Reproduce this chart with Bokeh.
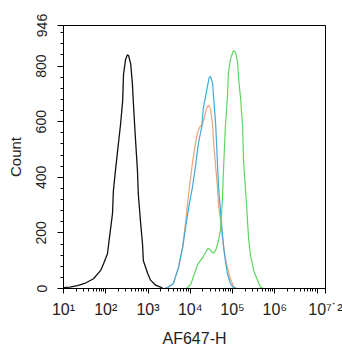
from bokeh.plotting import figure
from bokeh.models import Range1d, FixedTicker
from bokeh.embed import file_html
from bokeh.resources import INLINE

# ---- data (log10 of AF647-H intensity, count) ----
black_log = [1.00, 1.15, 1.33, 1.50, 1.71, 1.88, 1.95, 2.04, 2.11, 2.16, 2.18, 2.23, 2.28, 2.35, 2.40,
             2.42, 2.47, 2.51, 2.54, 2.59, 2.63, 2.66, 2.70, 2.75, 2.77, 2.82, 2.87, 2.89, 2.99,
             3.06, 3.18, 3.34]
black_cnt = [3, 5, 10, 18, 35, 65, 90, 125, 210, 270, 350, 425, 495, 590, 675,
             770, 825, 840, 838, 808, 737, 650, 545, 425, 340, 245, 160, 100, 55,
             30, 12, 2]

orange_log = [3.40, 3.46, 3.60, 3.72, 3.82, 3.89, 3.96, 4.01, 4.05, 4.12, 4.17, 4.22, 4.29, 4.34,
              4.38, 4.43, 4.48, 4.53, 4.55, 4.60, 4.64, 4.67, 4.72, 4.76, 4.79, 4.83, 4.88,
              4.95, 5.02, 5.09]
orange_cnt = [0, 3, 18, 75, 150, 240, 340, 400, 450, 520, 560, 580, 590, 620,
              645, 660, 645, 585, 530, 440, 370, 300, 240, 185, 148, 110, 75,
              35, 8, 0]

blue_log = [3.40, 3.46, 3.60, 3.72, 3.82, 3.89, 3.96, 4.05, 4.12, 4.19, 4.27, 4.31, 4.41, 4.45,
            4.48, 4.53, 4.55, 4.60, 4.64, 4.67, 4.72, 4.76, 4.79, 4.83, 4.88, 4.95, 5.02, 5.10]
blue_cnt = [0, 3, 18, 75, 148, 220, 290, 363, 435, 520, 580, 650, 730, 760,
            762, 737, 690, 593, 460, 363, 270, 198, 148, 100, 53, 18, 3, 0]

green_log = [3.91, 4.01, 4.08, 4.17, 4.24, 4.31, 4.38, 4.43, 4.48, 4.53, 4.57, 4.62, 4.67, 4.72,
             4.76, 4.79, 4.83, 4.88, 4.90, 4.95, 5.02, 5.07, 5.12, 5.14, 5.19, 5.24, 5.26,
             5.31, 5.35, 5.38, 5.42, 5.50, 5.59, 5.66, 5.73]
green_cnt = [0, 15, 45, 85, 100, 115, 135, 145, 138, 128, 130, 145, 175, 215,
             320, 440, 580, 690, 770, 825, 855, 850, 815, 760, 685, 580, 460,
             350, 255, 180, 125, 65, 30, 5, 0]

x_major_exp = [1, 2, 3, 4, 5, 6, 7, 7.2]
x_major_labels = ["10\u00b9", "10\u00b2", "10\u00b3", "10\u2074", "10\u2075",
                  "10\u2076", "", "\u200210\u2077\u02d9\u00b2"]
y_major = [0, 200, 400, 600, 800, 946]

x_range_exp = (1, 7.2)
y_max = 946

FONT = "Liberation Sans"
W, H = 342, 350
BL, BR, BT, BB = 63, 17, 25, 62

p = figure(width=W, height=H, x_axis_type="log",
           x_range=Range1d(10 ** x_range_exp[0], 10 ** x_range_exp[1]),
           y_range=Range1d(0, y_max),
           output_backend="svg", toolbar_location=None,
           min_border_left=BL, min_border_right=BR, min_border_top=BT, min_border_bottom=BB)

p.background_fill_color = "white"
p.border_fill_color = "white"
p.outline_line_color = "black"
p.outline_line_width = 1
p.xgrid.visible = False
p.ygrid.visible = False

def tolin(lst):
    return [10 ** v for v in lst]

p.line(tolin(black_log), black_cnt, line_color="#111111", line_width=1.3)
p.line(tolin(orange_log), orange_cnt, line_color="#E8A67C", line_width=1.2)
p.line(tolin(blue_log), blue_cnt, line_color="#3FA9DA", line_width=1.2)
p.line(tolin(green_log), green_cnt, line_color="#5DD65D", line_width=1.2)

# y axis
ya = p.yaxis[0]
ya.ticker = FixedTicker(ticks=y_major,
                        minor_ticks=[v for v in range(40, y_max, 40) if v % 200 != 0])
ya.major_label_orientation = "vertical"
ya.major_label_text_font = FONT
ya.major_label_text_font_size = "14px"
ya.major_label_text_color = "#222222"
ya.major_label_standoff = 11
ya.major_tick_out = 6
ya.major_tick_in = 0
ya.minor_tick_out = 3
ya.minor_tick_in = 0
ya.axis_line_color = "black"
ya.axis_label = "Count"
ya.axis_label_text_font = FONT
ya.axis_label_text_font_size = "15px"
ya.axis_label_text_font_style = "normal"
ya.axis_label_text_color = "#222222"
ya.axis_label_standoff = 10

# x axis
xa = p.xaxis[0]
minor = []
for k in range(1, 8):
    for m in range(2, 10):
        v = m * 10 ** k
        if v < 10 ** x_range_exp[1]:
            minor.append(v)
x_ticks = [10 ** e for e in x_major_exp]
xa.ticker = FixedTicker(ticks=x_ticks, minor_ticks=minor)
xa.major_label_overrides = {t: lab for t, lab in zip(x_ticks, x_major_labels)}
xa.major_label_text_font = FONT
xa.major_label_text_font_size = "16px"
xa.major_label_text_color = "#222222"
xa.major_label_standoff = 7
xa.major_tick_out = 5
xa.major_tick_in = 0
xa.minor_tick_out = 3
xa.minor_tick_in = 0
xa.axis_line_color = "black"
xa.axis_label = "AF647-H"
xa.axis_label_text_font = FONT
xa.axis_label_text_font_size = "16px"
xa.axis_label_text_font_style = "normal"
xa.axis_label_text_color = "#222222"
xa.axis_label_standoff = 9

open("out.html", "w").write(file_html(p, INLINE))
